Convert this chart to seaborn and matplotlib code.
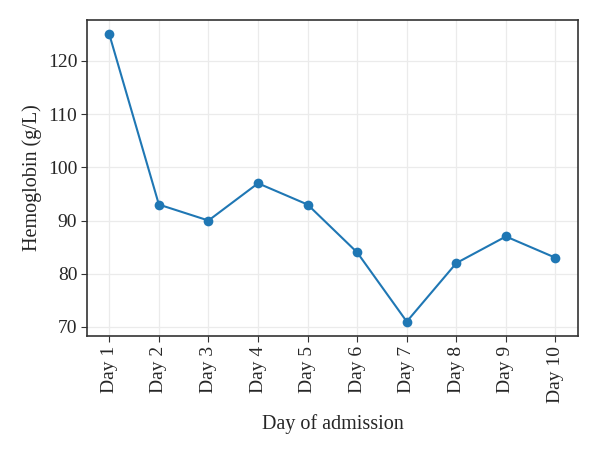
import numpy as np
import pandas as pd
import matplotlib
matplotlib.use("Agg")
import matplotlib.pyplot as plt
import seaborn as sns

days = ["Day 1", "Day 2", "Day 3", "Day 4", "Day 5",
        "Day 6", "Day 7", "Day 8", "Day 9", "Day 10"]
hemoglobin = [125, 93, 90, 97, 93, 84, 71, 82, 87, 83]

df = pd.DataFrame({"day": days, "hb": hemoglobin})

sns.set_style("whitegrid")
plt.rcParams["font.family"] = ["Liberation Serif", "DejaVu Serif"]

fig, ax = plt.subplots(figsize=(6, 4.54), dpi=100)
sns.lineplot(data=df, x="day", y="hb", ax=ax, color="#1f77b4",
             marker="o", markersize=7, markeredgewidth=0, linewidth=1.5, sort=False)

ax.set_xlabel("Day of admission", fontsize=14.5, labelpad=8)
ax.set_ylabel("Hemoglobin (g/L)", fontsize=14.5, labelpad=4)
ax.set_yticks([70, 80, 90, 100, 110, 120])
ax.tick_params(axis="both", labelsize=14, length=4, pad=3, color="#333333", left=True, bottom=True)
plt.xticks(rotation=90)
ax.grid(True, color="#ebebeb", linewidth=0.9)
for s in ax.spines.values():
    s.set_color("#333333")
    s.set_linewidth(1.2)

plt.subplots_adjust(left=0.145, right=0.963, top=0.956, bottom=0.26)
plt.savefig("out.png", dpi=100)
